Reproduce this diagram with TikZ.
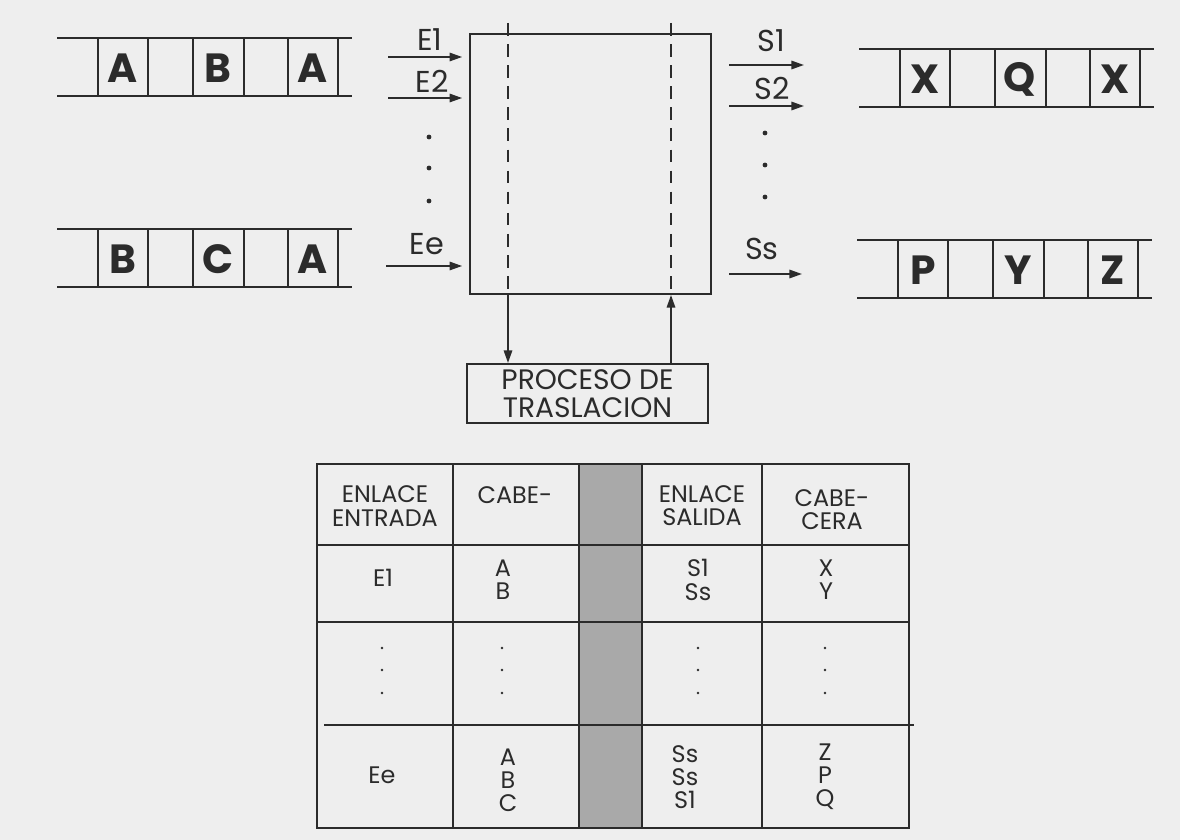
\documentclass[tikz,border=0pt]{standalone}
\usepackage{fontspec}
\setmainfont{Poppins}
\usetikzlibrary{arrows.meta, calc, positioning}

\definecolor{fondo}{HTML}{EEEEEE}
\definecolor{tinta}{HTML}{2B2B2B}
\definecolor{sombra}{HTML}{A9A9A9}

\begin{document}
\begin{tikzpicture}[x=0.025cm, y=-0.025cm, line width=1.3pt, color=tinta,
    letra/.style={font=\bfseries\fontsize{29}{29}\selectfont, inner sep=0pt},
    etiq/.style={font=\fontsize{21.5}{21.5}\selectfont, inner sep=0pt},
    caja/.style={font=\fontsize{20}{19.5}\selectfont, align=center},
    celda/.style={font=\fontsize{17}{16.5}\selectfont, align=center, inner sep=0pt},
    flecha/.style={-{Triangle[length=9pt,width=6pt]}},
    corte/.style={dash pattern=on 9pt off 6pt}]

    % fondo y margenes
    \fill[fondo] (0,0) rectangle (1180,840);
    \useasboundingbox (0,0) rectangle (1180,840);

    % colas de entrada y salida
    \foreach \x/\y/\a/\b/\c/\n in {57/38/A/B/A/ea, 57/229/B/C/A/ee,
                                   859/49/X/Q/X/sa, 857/240/P/Y/Z/ss} {
        \draw (\x,\y) -- ++(295,0);
        \draw (\x,\y+58) -- ++(295,0);
        \foreach \v in {41,91,136,187,231,281}
            \draw (\x+\v,\y) -- ++(0,58);
        \node[letra] (\n1) at (\x+66,\y+30) {\a};
        \node[letra] (\n2) at (\x+161,\y+30) {\b};
        \node[letra] (\n3) at (\x+256,\y+30) {\c};
    }

    % conmutador y proceso
    \node[draw, minimum width=6.03cm, minimum height=6.5cm, inner sep=0pt] (sw) at (590.5,164) {};
    \node[draw, caja, minimum width=6.03cm, minimum height=1.48cm, inner sep=0pt] (proc) at (587.5,393.5)
        {PROCESO DE\\TRASLACION};

    \coordinate (c1) at (508,23);
    \coordinate (c2) at (671,23);
    \draw[corte] (c1) -- (c1 |- sw.south);
    \draw[corte] (c2) -- (c2 |- sw.south);
    \draw[flecha] (c1 |- sw.south) -- (c1 |- proc.north);
    \draw[flecha] (c2 |- proc.north) -- (c2 |- sw.south);

    % enlaces de entrada
    \coordinate (e1) at (388,57);
    \coordinate (e2) at (388,98);
    \coordinate (ee) at (386,266);
    \foreach \p in {e1,e2,ee}
        \draw[flecha, shorten >=0.17cm] (\p) -- (\p -| sw.west);
    \node[etiq] (le1) at (430,40) {E1};
    \node[etiq] (le2) at (432,81) {E2};
    \node[etiq] (lee) at (427,244) {Ee};
    \foreach \y in {137,168,201}
        \fill (429,\y) circle (1.7pt);

    % enlaces de salida
    \coordinate (s1) at (804,65);
    \coordinate (s2) at (804,106);
    \coordinate (ss) at (802,274);
    \foreach \p in {s1,s2,ss}
        \draw[flecha, shorten <=0.43cm] (\p -| sw.east) -- (\p);
    \node[etiq] (ls1) at (771,41) {S1};
    \node[etiq] (ls2) at (772,88) {S2};
    \node[etiq] (lss) at (762,249) {Ss};
    \foreach \y in {133,165,197}
        \fill (765,\y) circle (1.7pt);

    % tabla de traslacion
    \fill[sombra] (579,464) rectangle (642,828);
    \draw (317,464) rectangle (909,828);
    \foreach \x in {453,579,642,762}
        \draw (\x,464) -- (\x,828);
    \foreach \y in {545,622}
        \draw (317,\y) -- (909,\y);
    \draw (324,725) -- (914,725);

    \node[celda] (h1) at (385,506) {ENLACE\\ENTRADA};
    \node[celda] (h2) at (515,495) {CABE-};
    \node[celda] (h4) at (702,506) {ENLACE\\SALIDA};
    \node[celda] (h5) at (832,510) {CABE-\\CERA};

    \node[celda] (t11) at (383,578) {E1};
    \node[celda] (t12) at (503,580) {A\\B};
    \node[celda] (t14) at (698,580) {S1\\Ss};
    \node[celda] (t15) at (826,580) {X\\Y};

    \foreach \x in {382,502,698,825}
        \foreach \y in {648,670,693}
            \fill (\x,\y) circle (1pt);

    \node[celda] (t31) at (382,775) {Ee};
    \node[celda] (t32) at (508,780) {A\\B\\C};
    \node[celda] (t34) at (685,777) {Ss\\Ss\\S1};
    \node[celda] (t35) at (825,777) {Z\\P\\Q};
\end{tikzpicture}
\end{document}
